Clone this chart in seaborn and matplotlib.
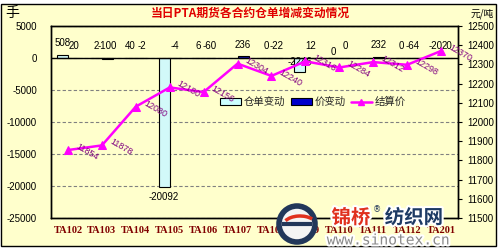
import numpy as np
import pandas as pd
import matplotlib
matplotlib.use('Agg')
import matplotlib.pyplot as plt
import seaborn as sns
from matplotlib.patches import Rectangle, Circle, Patch, Arc
from matplotlib.lines import Line2D
import matplotlib.patheffects as pe

# ---- data ----
contracts = ['TA102', 'TA103', 'TA104', 'TA105', 'TA106', 'TA107',
             'TA108', 'TA109', 'TA110', 'TA111', 'TA112', 'TA201']
warrant_change = [508, 2, 40, -20092, 6, np.nan, 0, -2246, 0, np.nan, 0, -20]
price_change = [20, -100, -2, -4, -60, 236, -22, 12, 0, 232, -64, 20]
settle_price = [11854, 11878, 12080, 12180, 12156, 12304,
                12240, 12316, 12284, 12312, 12298, 12370]
left_ticks = [5000, 0, -5000, -10000, -15000, -20000, -25000]
right_ticks = [12500, 12400, 12300, 12200, 12100, 12000,
               11900, 11800, 11700, 11600, 11500]
series_names = ['仓单变动', '价变动', '结算价']

BG = '#ffffcc'
LIGHT = '#ccffff'
DARK = '#0000cc'
MAG = '#ff00ff'

sns.set_theme(style='white')
plt.rcParams['font.family'] = ['Noto Sans CJK SC', 'DejaVu Sans']

W, H = 499, 250
fig = plt.figure(figsize=(W / 100, H / 100), dpi=100, facecolor='white')
fig.add_artist(Rectangle((1 / W, 1 - 246 / H), 495 / W, 242 / H,
                         transform=fig.transFigure, facecolor=BG,
                         edgecolor='black', lw=1, zorder=-5))

ax = fig.add_axes([51 / W, 1 - 218 / H, 407 / W, 192 / H])
ax.set_facecolor(BG)

df = pd.DataFrame({
    'contract': contracts * 2,
    'series': [series_names[0]] * len(contracts) + [series_names[1]] * len(contracts),
    'value': warrant_change + price_change,
})
sns.barplot(data=df, x='contract', y='value', hue='series', order=contracts,
            hue_order=series_names[:2],
            palette={series_names[0]: LIGHT, series_names[1]: DARK},
            edgecolor='black', linewidth=0.8, width=0.66, ax=ax, legend=False,
            zorder=3)
ax.set_ylim(-25000, 5000)
ax.set_yticks(left_ticks)
ax.set_yticklabels([str(t) for t in left_ticks], fontfamily='Liberation Sans',
                   fontsize=7, color='black')
ax.yaxis.grid(True, linestyle=(0, (3, 2)), color='#808080', lw=0.8, zorder=0)
ax.set_axisbelow(True)
ax.axhline(0, color='black', lw=1, zorder=4)
ax.tick_params(axis='y', length=0, pad=10)
ax.tick_params(axis='x', length=0, pad=6)
ax.set_xticks(range(len(contracts)))
ax.set_xticklabels(contracts, fontfamily='Liberation Serif', fontweight='bold',
                   fontsize=7.5, color='#800000')
ax.set_xlabel('')
ax.set_ylabel('')
for s in ax.spines.values():
    s.set_color('black')
    s.set_linewidth(1)

# bar value labels
half = 0.66 / 4
for j, vals in enumerate([warrant_change, price_change]):
    off = -half if j == 0 else half
    for i, v in enumerate(vals):
        if v is None or (isinstance(v, float) and np.isnan(v)):
            continue
        txt = str(int(v))
        if v <= -10000:
            ax.annotate(txt, (i + off, v), xytext=(0, -4), textcoords='offset points',
                        ha='center', va='top', fontsize=7, fontfamily='Liberation Sans',
                        color='black', zorder=6)
        elif v < -1000 or (j == 0 and v == 0 and i == 8):
            ax.annotate(txt, (i + off, 0), xytext=(0, 1), textcoords='offset points',
                        ha='center', va='top' if v < -1000 else 'bottom', fontsize=7,
                        fontfamily='Liberation Sans', color='black', zorder=6)
        else:
            ax.annotate(txt, (i + off, max(v, 0)), xytext=(0, 5), textcoords='offset points',
                        ha='center', va='bottom', fontsize=7, fontfamily='Liberation Sans',
                        color='black', zorder=6)

# settlement price line
ax2 = ax.twinx()
sns.lineplot(x=np.arange(len(contracts)), y=settle_price, ax=ax2, color=MAG, lw=1.8,
             marker='^', markersize=6, markeredgecolor=MAG, markerfacecolor=MAG,
             zorder=5)
ax2.set_ylim(11500, 12500)
ax2.set_yticks(right_ticks)
ax2.set_yticklabels([str(t) for t in right_ticks], fontfamily='Liberation Sans',
                    fontsize=7, color='black')
ax2.tick_params(axis='y', direction='out', length=3, width=0.8, color='black',
                pad=4, right=True)
ax2.grid(False)
ax2.set_ylabel('')
for s in ax2.spines.values():
    s.set_color('black')
    s.set_linewidth(1)
ax.set_xlim(-0.5, len(contracts) - 0.5)

for i, p in enumerate(settle_price):
    ax2.annotate(str(p), (i, p), xytext=(6, 3), textcoords='offset points',
                 rotation=-30, rotation_mode='anchor', ha='left', va='center',
                 fontsize=6.5, fontfamily='Liberation Sans', color='#800080', zorder=6)

handles = [Patch(facecolor=LIGHT, edgecolor='black', lw=0.8),
           Patch(facecolor=DARK, edgecolor='black', lw=0.8),
           Line2D([], [], color=MAG, lw=1.8, marker='^', markersize=5)]
ax2.legend(handles, series_names, loc='center', bbox_to_anchor=(0.644, 0.604),
           ncol=3, frameon=False, fontsize=7.5, handlelength=2.0,
           handletextpad=0.3, columnspacing=0.5, handleheight=0.6)

# titles / units
fig.text(250 / W, 1 - 13 / H, '当日PTA期货各合约仓单增减变动情况', ha='center', va='center',
         fontsize=8.5, fontweight='bold', color='#e00000')
fig.text(12 / W, 1 - 13 / H, '手', ha='center', va='center', fontsize=10, color='black')
fig.text(482 / W, 1 - 14 / H, '元/吨', ha='center', va='center', fontsize=7, color='black')

# watermark overlay
ov = fig.add_axes([0, 0, 1, 1], zorder=10)
ov.set_xlim(0, W)
ov.set_ylim(H, 0)
ov.axis('off')
ov.patch.set_alpha(0)
ov.add_patch(Circle((297, 224), 18, facecolor='#f4f4f4', edgecolor='#22375a', lw=4))
ov.plot([282, 312], [224, 224], color='#22375a', lw=3, solid_capstyle='butt')
ov.add_patch(Arc((300, 226), 34, 20, theta1=200, theta2=330, color='#e0301e', lw=2.5))
halo = [pe.withStroke(linewidth=3, foreground='white')]
ov.text(351, 218, '锦桥', ha='center', va='center', fontsize=14, fontweight='bold',
        color='#e0301e', path_effects=halo)
ov.text(377, 210, '®', ha='center', va='center', fontsize=6, color='#22375a',
        fontfamily='DejaVu Sans')
ov.text(414, 218, '纺织网', ha='center', va='center', fontsize=14, fontweight='bold',
        color='#1d3a63', path_effects=halo)
ov.text(388, 240, 'www.sinotex.cn', ha='center', va='center', fontsize=10.5,
        fontfamily='DejaVu Sans Mono', color='#8a8a8a', path_effects=halo)

fig.savefig('out.png', dpi=100, facecolor='white')
